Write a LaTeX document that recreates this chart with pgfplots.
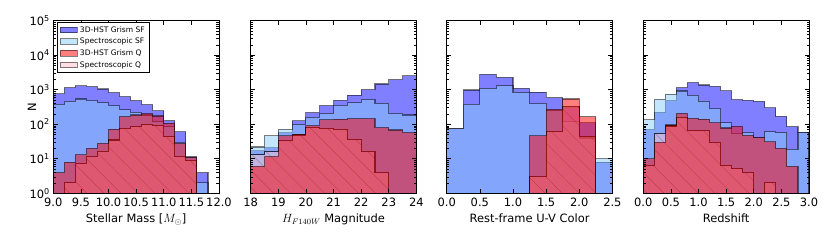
\documentclass[border=0pt]{standalone}
\usepackage{fontspec}
\setmainfont{DejaVu Sans}
\usepackage{pgfplots}
\pgfplotsset{compat=1.18}
\usetikzlibrary{patterns.meta}
\definecolor{cgsf}{RGB}{0,0,255}
\definecolor{cssf}{RGB}{135,206,250}
\definecolor{cgq}{RGB}{255,0,0}
\definecolor{csq}{RGB}{255,192,203}
\tikzset{
  histline/.style={draw=black, draw opacity=0.5, line width=1.1bp, fill opacity=0.5},
  sgsf/.style={histline, fill=cgsf},
  sssf/.style={histline, fill=cssf},
  sgq/.style={histline, fill=cgq},
  ssq/.style={histline, fill=csq, postaction={pattern={Lines[angle=-45,distance=12bp,line width=0.45bp]}, pattern color=black!70}},
}
\begin{document}
\begin{tikzpicture}
\useasboundingbox (0,0) rectangle (830bp,242bp);
% ---------- Panel 1: stellar mass ----------
\begin{axis}[scale only axis, width=165.7bp, height=172.6bp,
  ymode=log, ymin=1, ymax=1e5,
  ytick={1,10,100,1000,10000,100000},
  minor ytick={2,3,4,5,6,7,8,9,20,30,40,50,60,70,80,90,200,300,400,500,600,700,800,900,2000,3000,4000,5000,6000,7000,8000,9000,20000,30000,40000,50000,60000,70000,80000,90000},
  tick align=inside, major tick length=4.5bp, minor tick length=2.5bp,
  axis line style={line width=0.8bp},
  tick style={black, line width=0.6bp},
  tick label style={font=\fontsize{11.5}{13}\selectfont},
  xticklabel style={yshift=-1.2bp},
  label style={font=\fontsize{11.5}{13}\selectfont},
  axis on top,
  at={(53.3bp,48.7bp)}, anchor=south west,
  xmin=9, xmax=12, xtick={9,9.5,10,10.5,11,11.5,12},
  xticklabels={9.0,9.5,10.0,10.5,11.0,11.5,12.0},
  yticklabels={10\textsuperscript{0},10\textsuperscript{1},10\textsuperscript{2},10\textsuperscript{3},10\textsuperscript{4},10\textsuperscript{5}},
  xlabel={Stellar Mass [$M_\odot$]}, ylabel={N},
  ylabel style={at={(axis description cs:-0.1285,0.5)}, anchor=center},
  legend image code/.code={\draw[#1] (0bp,-3.2bp) rectangle (16.7bp,3.2bp);},
  legend style={at={(0.022,0.99)}, anchor=north west, font=\fontsize{7.6}{8.6}\selectfont,
    draw=black, line width=0.8bp, fill=white, inner xsep=2.5bp, inner ysep=1.5bp,
    nodes={inner sep=2bp}, row sep=0.4bp},
  legend cell align=left]
\addlegendimage{area legend, sgsf}
\addlegendentry{3D-HST Grism SF}
\addlegendimage{area legend, sssf}
\addlegendentry{Spectroscopic SF}
\addlegendimage{area legend, sgq}
\addlegendentry{3D-HST Grism Q}
\addlegendimage{area legend, histline, fill=csq}
\addlegendentry{Spectroscopic Q}
\addplot[forget plot, const plot, sgsf] coordinates {(9.0,0.5) (9.0,760) (9.2,1150) (9.4,1300) (9.6,1230) (9.8,1050) (10.0,820) (10.2,630) (10.4,480) (10.6,370) (10.8,245) (11.0,127) (11.2,60) (11.4,11.5) (11.6,4) (11.8,4) (11.8,0.5)};
\addplot[forget plot, const plot, sssf] coordinates {(9.0,0.5) (9.0,380) (9.2,470) (9.4,540) (9.6,490) (9.8,420) (10.0,345) (10.2,260) (10.4,225) (10.6,185) (10.8,120) (11.0,85) (11.2,30) (11.4,11) (11.6,2) (11.8,2) (11.8,0.5)};
\addplot[forget plot, const plot, ssq] coordinates {(9.0,0.5) (9.0,0.5) (9.2,2) (9.4,7.4) (9.6,11.5) (9.8,16) (10.0,35) (10.2,76) (10.4,85) (10.6,96) (10.8,90) (11.0,44) (11.2,11.5) (11.4,9) (11.6,0.5) (11.8,0.5) (11.8,0.5)};
\addplot[forget plot, const plot, sgq] coordinates {(9.0,0.5) (9.0,4) (9.2,8) (9.4,13) (9.6,20) (9.8,28) (10.0,72) (10.2,166) (10.4,185) (10.6,200) (10.8,174) (11.0,107) (11.2,28) (11.4,11) (11.6,0.5) (11.8,0.5) (11.8,0.5)};
\end{axis}
% ---------- Panel 2: H magnitude ----------
\begin{axis}[scale only axis, width=165.7bp, height=172.6bp,
  ymode=log, ymin=1, ymax=1e5,
  ytick={1,10,100,1000,10000,100000}, yticklabels={},
  minor ytick={2,3,4,5,6,7,8,9,20,30,40,50,60,70,80,90,200,300,400,500,600,700,800,900,2000,3000,4000,5000,6000,7000,8000,9000,20000,30000,40000,50000,60000,70000,80000,90000},
  tick align=inside, major tick length=4.5bp, minor tick length=2.5bp,
  axis line style={line width=0.8bp},
  tick style={black, line width=0.6bp},
  tick label style={font=\fontsize{11.5}{13}\selectfont},
  xticklabel style={yshift=-1.2bp},
  label style={font=\fontsize{11.5}{13}\selectfont},
  axis on top,
  at={(250.7bp,48.7bp)}, anchor=south west,
  xmin=18, xmax=24, xtick={18,19,20,21,22,23,24},
  xticklabels={18,19,20,21,22,23,24},
  xlabel={$H_{F140W}$ Magnitude}]
\addplot[forget plot, const plot, sgsf] coordinates {(18,0.5) (18,17) (18.5,21) (19,57) (19.5,125) (20,217) (20.5,345) (21,490) (21.5,700) (22,1000) (22.5,1470) (23,1950) (23.5,2530) (24,2530) (24,0.5)};
\addplot[forget plot, const plot, sssf] coordinates {(18,0.5) (18,22) (18.5,46) (19,71) (19.5,98) (20,160) (20.5,208) (21,360) (21.5,420) (22,530) (22.5,405) (23,208) (23.5,185) (24,185) (24,0.5)};
\addplot[forget plot, const plot, ssq] coordinates {(18,0.5) (18,13) (18.5,16) (19,33) (19.5,49) (20,82) (20.5,76) (21,70) (21.5,36) (22,16) (22.5,4) (23,0.5) (23.5,0.5) (24,0.5) (24,0.5)};
\addplot[forget plot, const plot, sgq] coordinates {(18,0.5) (18,6) (18.5,11.5) (19,46) (19.5,52) (20,91) (20.5,135) (21,140) (21.5,145) (22,145) (22.5,80) (23,68) (23.5,57) (24,57) (24,0.5)};
\end{axis}
% ---------- Panel 3: U-V colour ----------
\begin{axis}[scale only axis, width=165.7bp, height=172.6bp,
  ymode=log, ymin=1, ymax=1e5,
  ytick={1,10,100,1000,10000,100000}, yticklabels={},
  minor ytick={2,3,4,5,6,7,8,9,20,30,40,50,60,70,80,90,200,300,400,500,600,700,800,900,2000,3000,4000,5000,6000,7000,8000,9000,20000,30000,40000,50000,60000,70000,80000,90000},
  tick align=inside, major tick length=4.5bp, minor tick length=2.5bp,
  axis line style={line width=0.8bp},
  tick style={black, line width=0.6bp},
  tick label style={font=\fontsize{11.5}{13}\selectfont},
  xticklabel style={yshift=-1.2bp},
  label style={font=\fontsize{11.5}{13}\selectfont},
  axis on top,
  at={(446.7bp,48.7bp)}, anchor=south west,
  xmin=0, xmax=2.5, xtick={0,0.5,1,1.5,2,2.5},
  xticklabels={0.0,0.5,1.0,1.5,2.0,2.5},
  xlabel={Rest-frame U-V Color}]
\addplot[forget plot, const plot, sgsf] coordinates {(0,0.5) (0,75) (0.25,980) (0.5,2800) (0.75,2300) (1.0,1100) (1.25,850) (1.5,590) (1.75,300) (2.0,110) (2.25,8) (2.5,8) (2.5,0.5)};
\addplot[forget plot, const plot, sssf] coordinates {(0,0.5) (0,74) (0.25,380) (0.5,1100) (0.75,1290) (1.0,845) (1.25,405) (1.5,250) (1.75,120) (2.0,40) (2.25,10) (2.5,10) (2.5,0.5)};
\addplot[forget plot, const plot, ssq] coordinates {(0,0.5) (0,0.5) (0.25,0.5) (0.5,0.5) (0.75,0.5) (1.0,0.5) (1.25,3) (1.5,61) (1.75,325) (2.0,44) (2.25,0.5) (2.5,0.5) (2.5,0.5)};
\addplot[forget plot, const plot, sgq] coordinates {(0,0.5) (0,0.5) (0.25,0.5) (0.5,0.5) (0.75,0.5) (1.0,0.5) (1.25,46) (1.5,270) (1.75,540) (2.0,166) (2.25,0.5) (2.5,0.5) (2.5,0.5)};
\end{axis}
% ---------- Panel 4: redshift ----------
\begin{axis}[scale only axis, width=165.7bp, height=172.6bp,
  ymode=log, ymin=1, ymax=1e5,
  ytick={1,10,100,1000,10000,100000}, yticklabels={},
  minor ytick={2,3,4,5,6,7,8,9,20,30,40,50,60,70,80,90,200,300,400,500,600,700,800,900,2000,3000,4000,5000,6000,7000,8000,9000,20000,30000,40000,50000,60000,70000,80000,90000},
  tick align=inside, major tick length=4.5bp, minor tick length=2.5bp,
  axis line style={line width=0.8bp},
  tick style={black, line width=0.6bp},
  tick label style={font=\fontsize{11.5}{13}\selectfont},
  xticklabel style={yshift=-1.2bp},
  label style={font=\fontsize{11.5}{13}\selectfont},
  axis on top,
  at={(643.3bp,48.7bp)}, anchor=south west,
  xmin=0, xmax=3, xtick={0,0.5,1,1.5,2,2.5,3},
  xticklabels={0.0,0.5,1.0,1.5,2.0,2.5,3.0},
  xlabel={Redshift}]
\addplot[forget plot, const plot, sgsf] coordinates {(0,0.5) (0,70) (0.2,222) (0.4,480) (0.6,1150) (0.8,1600) (1.0,1370) (1.2,1250) (1.4,930) (1.6,520) (1.8,490) (2.0,460) (2.2,300) (2.4,170) (2.6,85) (2.8,58) (3.0,58) (3.0,0.5)};
\addplot[forget plot, const plot, sssf] coordinates {(0,0.5) (0,135) (0.2,530) (0.4,750) (0.6,920) (0.8,700) (1.0,460) (1.2,290) (1.4,110) (1.6,55) (1.8,57) (2.0,42) (2.2,61) (2.4,57) (2.6,19) (2.8,57) (3.0,57) (3.0,0.5)};
\addplot[forget plot, const plot, ssq] coordinates {(0,0.5) (0,6.5) (0.2,55) (0.4,89) (0.6,160) (0.8,65) (1.0,65) (1.2,30) (1.4,6.5) (1.6,5.2) (1.8,3.9) (2.0,0.5) (2.2,2) (2.4,0.5) (2.6,0.5) (2.8,0.5) (3.0,0.5) (3.0,0.5)};
\addplot[forget plot, const plot, sgq] coordinates {(0,0.5) (0,10) (0.2,30) (0.4,95) (0.6,208) (0.8,149) (1.0,140) (1.2,110) (1.4,78) (1.6,87) (1.8,48) (2.0,41) (2.2,31) (2.4,20) (2.6,6) (2.8,0.5) (3.0,0.5) (3.0,0.5)};
\end{axis}
\end{tikzpicture}
\end{document}
